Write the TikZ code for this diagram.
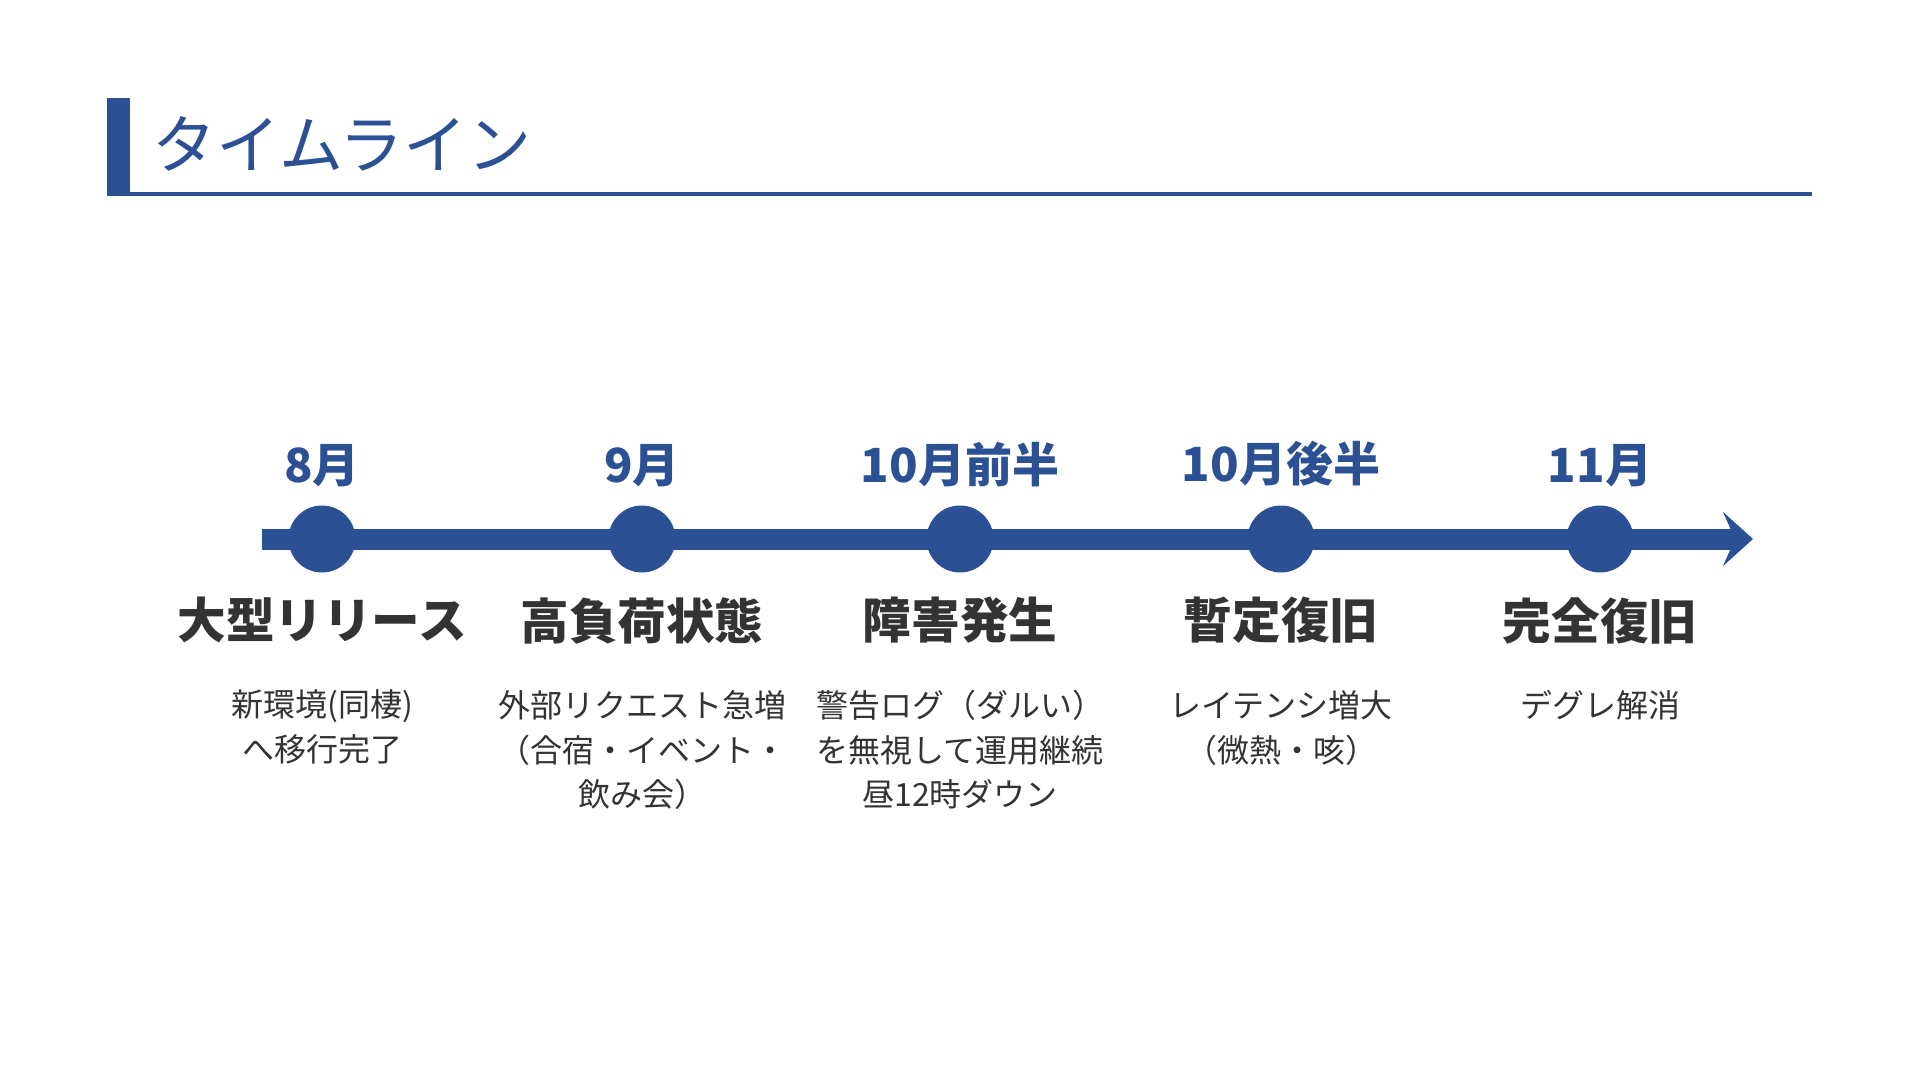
\documentclass[tikz,border=0pt]{standalone}
\usepackage{fontspec}
\setmainfont{Noto Sans CJK JP}
\usetikzlibrary{positioning,arrows.meta}
\definecolor{tlblue}{HTML}{2B5194}
\definecolor{tlgray}{HTML}{333333}
\tikzset{
  axis/.style={line width=10.5pt,tlblue,-{Stealth[length=15pt,width=27pt,inset=6pt]}},
  dot/.style={circle,fill=tlblue,minimum size=33.5pt,inner sep=0pt},
  month/.style={inner sep=0pt,text=tlblue,font=\fontsize{23.5}{26}\selectfont\bfseries},
  event/.style={inner sep=0pt,text=tlgray,font=\fontsize{24.3}{27}\selectfont\bfseries},
  desc/.style={inner sep=0pt,text=tlgray,align=center,font=\fontsize{16}{22.2}\selectfont}
}
\begin{document}
\begin{tikzpicture}[x=0.5pt,y=-0.5pt]
  \useasboundingbox (0,0) rectangle (1920,1080);
  % Title
  \fill[tlblue] (107,98) rectangle (130,196);
  \fill[tlblue] (107,192) rectangle (1812,196);
  \node[anchor=west,inner sep=0pt,text=tlblue,font=\fontsize{32}{36}\selectfont] (title) at (152,144) {タイムライン};
  % Time axis
  \coordinate (start) at (262,539);
  \coordinate (end) at (1753,539);
  \draw[axis] (start) -- (end);
  % August
  \node[dot] (aug) at (322,539) {};
  \node[month,above=9pt of aug] (augm) {8月};
  \node[event,below=12pt of aug] (auge) {大型リリース};
  \node[desc,below=23pt of auge] (augd) {新環境(同棲)\\へ移行完了};
  % September
  \node[dot] (sep) at (642,539) {};
  \node[month,above=9pt of sep] (sepm) {9月};
  \node[event,below=12pt of sep] (sepe) {高負荷状態};
  \node[desc,below=23pt of sepe] (sepd) {外部リクエスト急増\\（合宿・イベント・\\飲み会）};
  % Early October
  \node[dot] (octa) at (960,539) {};
  \node[month,above=9pt of octa] (octam) {10月前半};
  \node[event,below=12pt of octa] (octae) {障害発生};
  \node[desc,below=23pt of octae] (octad) {警告ログ（ダルい）\\を無視して運用継続\\昼12時ダウン};
  % Late October
  \node[dot] (octb) at (1281,539) {};
  \node[month,above=9pt of octb] (octbm) {10月後半};
  \node[event,below=12pt of octb] (octbe) {暫定復旧};
  \node[desc,below=23pt of octbe] (octbd) {レイテンシ増大\\（微熱・咳）};
  % November
  \node[dot] (nov) at (1600,539) {};
  \node[month,above=9pt of nov] (novm) {11月};
  \node[event,below=12pt of nov] (nove) {完全復旧};
  \node[desc,below=23pt of nove] (novd) {デグレ解消};
\end{tikzpicture}
\end{document}
